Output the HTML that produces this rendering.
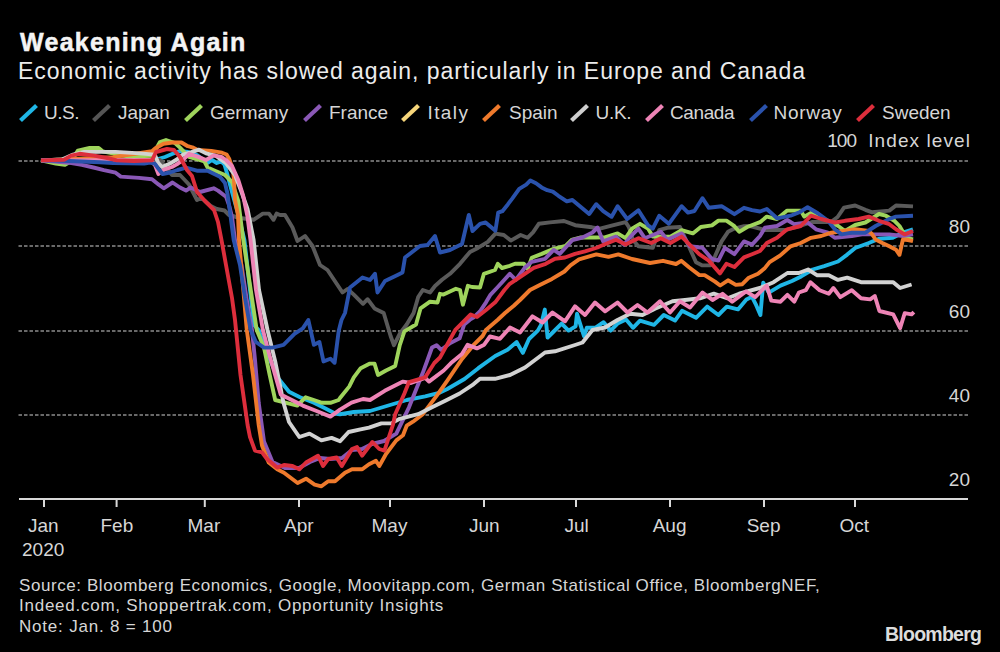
<!DOCTYPE html>
<html><head><meta charset="utf-8">
<style>
html,body{margin:0;padding:0;background:#000;}
body{width:1000px;height:652px;position:relative;overflow:hidden;font-family:"Liberation Sans",sans-serif;color:#d6d6d6;}
.t{position:absolute;white-space:nowrap;line-height:1;}
#title{left:20px;top:30px;font-size:25px;font-weight:bold;color:#f4f4f4;letter-spacing:1.3px;-webkit-text-stroke:0.5px #f4f4f4;}
#sub{left:18px;top:60px;font-size:23px;color:#ececec;letter-spacing:0.95px;}
.lg{top:103px;font-size:19px;}
.ax{font-size:19px;}
.src{left:19px;font-size:17px;letter-spacing:0.65px;}
#logo{left:885px;top:625px;font-size:19.5px;font-weight:bold;color:#dcdcdc;letter-spacing:-0.75px;}
svg{position:absolute;left:0;top:0;}
</style></head>
<body>
<div class="t" id="title">Weakening Again</div>
<div class="t" id="sub">Economic activity has slowed again, particularly in Europe and Canada</div>

<div class="t lg" style="left:44px;letter-spacing:-0.5px">U.S.</div>
<div class="t lg" style="left:118px">Japan</div>
<div class="t lg" style="left:210px">Germany</div>
<div class="t lg" style="left:329px">France</div>
<div class="t lg" style="left:427.5px;letter-spacing:1.4px">Italy</div>
<div class="t lg" style="left:509px">Spain</div>
<div class="t lg" style="left:595.5px;letter-spacing:-0.3px">U.K.</div>
<div class="t lg" style="left:670px;letter-spacing:-0.4px">Canada</div>
<div class="t lg" style="left:773.5px;letter-spacing:0.75px">Norway</div>
<div class="t lg" style="left:882px">Sweden</div>

<div class="t ax" style="right:28.9px;top:131px"><span style="letter-spacing:-0.9px">100</span><span style="display:inline-block;width:12px"></span><span style="letter-spacing:1.1px">Index level</span></div>
<div class="t ax" style="right:30px;top:217px">80</div>
<div class="t ax" style="right:30px;top:302px">60</div>
<div class="t ax" style="right:30px;top:386px">40</div>
<div class="t ax" style="right:30px;top:470px">20</div>

<div class="t ax" style="left:28px;top:516px">Jan</div>
<div class="t ax" style="left:22px;top:540px">2020</div>
<div class="t ax" style="left:100.5px;top:516px">Feb</div>
<div class="t ax" style="left:187.5px;top:516px">Mar</div>
<div class="t ax" style="left:284px;top:516px">Apr</div>
<div class="t ax" style="left:371.5px;top:516px">May</div>
<div class="t ax" style="left:469px;top:516px">Jun</div>
<div class="t ax" style="left:564.5px;top:516px">Jul</div>
<div class="t ax" style="left:652.7px;top:516px">Aug</div>
<div class="t ax" style="left:746.7px;top:516px">Sep</div>
<div class="t ax" style="left:839.6px;top:516px">Oct</div>

<div class="t src" style="top:577px;letter-spacing:0.58px">Source: Bloomberg Economics, Google, Moovitapp.com, German Statistical Office, BloombergNEF,</div>
<div class="t src" style="top:597px;letter-spacing:0.75px">Indeed.com, Shoppertrak.com, Opportunity Insights</div>
<div class="t src" style="top:618px;letter-spacing:0.8px">Note: Jan. 8 = 100</div>
<div class="t" id="logo">Bloomberg</div>

<svg width="1000" height="652" viewBox="0 0 1000 652">
<g stroke="#8c8c8c" stroke-width="1.5" stroke-dasharray="3.5 2">
<line x1="18.5" y1="161" x2="969.5" y2="161"/>
<line x1="18.5" y1="246" x2="969.5" y2="246"/>
<line x1="18.5" y1="331" x2="969.5" y2="331"/>
<line x1="18.5" y1="415" x2="969.5" y2="415"/>
</g>
<g stroke="#d8d8d8" stroke-width="2">
<line x1="19" y1="499" x2="968" y2="499"/>
<path d="M44 499V507M116.6 499V507M204.8 499V507M299 499V507M390 499V507M484 499V507M576 499V507M670 499V507M764 499V507M855 499V507"/>
</g>
<g stroke-width="4.2" stroke-linecap="butt">
<line x1="20.5" y1="120.5" x2="36.5" y2="105.5" stroke="#1fb6e6"/>
<line x1="93.5" y1="120.5" x2="109.5" y2="105.5" stroke="#555555"/>
<line x1="185.5" y1="120.5" x2="201.5" y2="105.5" stroke="#9fd45c"/>
<line x1="304.5" y1="120.5" x2="320.5" y2="105.5" stroke="#8a58b6"/>
<line x1="402.5" y1="120.5" x2="418.5" y2="105.5" stroke="#f6d57a"/>
<line x1="483.5" y1="120.5" x2="499.5" y2="105.5" stroke="#ef7a2c"/>
<line x1="571.5" y1="120.5" x2="587.5" y2="105.5" stroke="#cfcfcf"/>
<line x1="646.5" y1="120.5" x2="662.5" y2="105.5" stroke="#ee84b6"/>
<line x1="750.5" y1="120.5" x2="766.5" y2="105.5" stroke="#2a52ac"/>
<line x1="857.5" y1="120.5" x2="873.5" y2="105.5" stroke="#dd2e3c"/>
</g>
<g id="lines" fill="none" stroke-width="3.9" stroke-linejoin="round">
<path stroke="#1fb6e6" d="M41,160.4 150,160 158,159 165,157 172,154 180,151 188,152 197,155 207.6,163 212,160 216.8,163 221.4,161.5 224.5,164.5 227.5,175 232,192 238,213.6 244.4,240 254,325 258.7,330 267,353 278,378 289,391.8 300,397.3 313.9,402.8 325,408.3 336,413.9 340,414.2 353.8,412 370,411 388.4,405.5 406.8,400 425.2,396.3 440,392.6 447.3,389 464.5,379 478.3,368.2 495.2,356 507.5,349.8 516.7,342.1 522.8,352.9 529,339 537.8,330.6 541,325 544.8,309.6 547.6,337.6 553.2,332 561.6,323.6 568.6,330.6 575.6,326.4 577,313.8 584,336.2 586.8,327.8 595.2,327.8 603.6,322.2 610.6,330.6 617.6,323.6 626,319.4 633,327.8 640,320.6 654,324.8 663.8,315 675,320.6 682,310.8 696,317.8 707.2,306.6 718.4,315 726.8,306.6 738,309.4 746.4,299.6 752,296.8 756.2,305.2 760.4,315 763.2,282.8 768.8,292.6 780.5,285.6 792,281 801.2,276.4 812.7,269.5 824.2,266.1 838,261.5 847.2,254.6 855.2,248 868.8,243 879,238.7 892.7,237.8 902.9,232.7 913,229.3"/>
<path stroke="#5a5a5a" d="M41,160.4 100,158 160,160 168,170 172,175 180,175 189,184.5 197,200 201.5,198 210.7,206 216.8,209 224.5,210.5 229,215 240,218 253.6,219.8 262.8,213.6 269,213.6 273.5,219.8 276.6,213.6 280,215 285,215 292.5,227.5 297.5,241 305,236 312.5,246 320,265 327.5,270 342.5,292.5 347.5,289 353.8,294.6 363,303.8 367.6,299.2 374.5,308.4 383.7,313 390.6,336 394,345.2 399.8,333.7 406.7,324.5 413.6,313 418.2,297 422.8,290 430,292.5 435,286 442,279.8 450,273.8 460,263.8 470,251.9 477.9,247.9 487.8,241.9 495.4,233.6 503.8,235 510.8,240.6 520.6,235 527.6,237.8 533.2,232.2 538.8,223.8 550,222.4 564,221 575.2,225.2 592,227.3 600,228.6 609.6,226.2 625.6,222.2 628.8,227 633,240 638.4,246.2 652.8,247.8 659.2,230.2 667.2,227.8 680,227 686,240 696,262.2 702.4,265.4 710.4,265.4 715.2,255.8 721.6,241.4 728,231.8 734.4,228.6 744,226.2 750,226 765,230 786,230 800,226 812,222 831,222 837.6,217 844,207.6 855.2,205.5 865.4,209.8 872.2,212.3 889.3,210.6 896,205.5 913,206.4"/>
<path stroke="#9fd45c" d="M41,160.4 55.8,163.6 64.9,164.9 71.4,161 77.9,150.6 89.6,148 98.7,148 102.6,151.3 128.6,156.5 152,155.8 155.9,149.3 160,142 166,140 175,143 180,147.7 189,157 204.5,161.5 207.6,167.6 215,170.7 225,175 232,182 238.3,201 243,238 250,285 256.7,330 264,347.6 269.7,375 275.2,400 286.3,402.8 297.3,405.6 305.6,397.3 313.9,400 322,402.8 330.4,402.8 338.7,400 340,398 349.2,386.6 353.8,377.4 360.7,368.2 369.9,363.6 374.5,363.6 378,375 386,370.5 395.2,365.9 399.8,345.2 404.4,331.4 416,324.5 420.5,308.4 430,301.7 437.5,302.5 440,293.8 443.5,294.6 455.9,288.8 460,290 462.9,304.7 467.9,285.8 472,287 480,287.5 483.9,273.8 495,270 497.8,263.8 502,268 509.8,265.8 515,263.8 523.8,263.8 527.7,268.8 531.7,257.8 541.7,253.9 553.7,248.9 565.6,245.9 571.6,239.9 580,237.5 595,237.5 604.8,237.4 617.6,233.4 625.6,238.2 632,228.6 640,223.8 648,228.6 652.8,236.6 670.4,236.6 681.6,230.2 692.8,233.4 700.8,227 712,225.4 718.4,220.6 726.4,220.6 734.4,226.2 739.2,231.8 747.2,227 760,222.2 766.8,216.6 777,219 787.2,210.6 800.8,210.6 804.2,216.6 811,213 828,220.8 838.2,226 845,231 855.2,225 865.4,222.5 879,214 885.8,215.7 894.4,220.8 899.5,226 906.3,237.8 913,239.5"/>
<path stroke="#8a58b6" d="M41,160.4 71.4,163 81.8,164.9 93.5,167.5 103.9,170.1 115.6,172.7 120.8,176.6 139,177.9 152,179.2 158.5,184.4 163.7,188.3 172.5,182.5 180,187.5 186,190.6 190.7,187.5 200,192 213.7,188.3 218,190.6 226,196.7 229,205 232,217 235,240 241.5,265 246.5,298 252,330 255,360 258.7,402.8 264,441.5 272.5,462 285,468 299,468 310,462 320,458 330,459 342,458 352,450 362,449 372,444 384,441 396.3,433.6 409,407.3 422.8,372.8 432,347.5 436.6,345.2 441.2,349.8 450.4,343 459.6,338.3 464.2,324.5 469.9,319.7 473.4,317.6 479.9,311.5 486,302.3 490.6,294.6 497.8,287 509.8,273.8 515.8,279.8 525,267.5 531.7,261.8 545,258.8 553.7,249.9 559.7,253.9 572.5,240 582.5,237.5 592.5,232.5 597.5,227.5 603.2,241.4 616,236.6 624,244.6 630.4,236.6 638.4,228.6 644.8,238.2 660.8,231.8 667.2,239.8 681.6,233.4 689.6,246.2 702.4,247.8 712,259 718.4,260.6 724.8,247.8 734.4,254.2 744,241.4 752,244.6 760,236 765,227.6 777,226 787.2,220 794,224.2 807.6,222.5 816,229.3 828,232.7 834.8,237.8 851.8,236 862,234.4 875.6,234.4 889.3,234.4 902.9,236 913,234.4"/>
<path stroke="#ef7a2c" d="M41,160.4 113,157.1 152,151.3 155.4,148.2 163.5,143.7 172.5,142.5 181.5,142.5 187.8,146.2 192.3,147.3 197.7,150 211.3,150.9 222,152.7 226.6,154.5 229.3,159 232.9,169.8 234,180 235,200 238,215 239,240 246.8,330 253,375 258.7,425 262,445.5 268.7,462.5 277.2,469.3 284,472.7 297.6,483 306,478.7 314.6,484.6 321.4,486.3 328.2,481.2 335,481.2 345,472.7 352,469.3 362.2,469.3 369,464.2 375.9,460.8 379.3,466 386,454 396.3,440.4 403,435.3 406.7,425.7 413,421.7 422.8,414.2 436.6,395.8 448,379.7 462,359 473.4,345.2 482.6,336 485.9,330 497.8,319.7 505,313 513.8,305.7 520,300 530,290 539.8,285 552,278.9 564.4,271.5 570.5,265.4 579,259.3 596.3,254.4 608.5,256.8 618.3,254.4 632,259 650,263 663,260.8 676,264 681.2,260.8 689,267.3 699.4,275.1 704.6,275.1 715,281.6 720.2,285.5 728,280.3 735.8,284.9 742.3,284.2 748.8,277.7 758,273.8 764.4,268.6 769.6,262.1 780,255.6 790.6,246.3 800.8,243 811,237.8 821.2,236 831.4,232.7 855.2,229.3 868.8,231 872.2,234.4 875.6,239.5 882.4,243 889.3,246.3 896,249.7 899.5,254.8 902.9,239.5 908,240 913,241.2"/>
<path stroke="#d2d2d2" d="M41,160.4 62,159.5 72,155 84.4,152 100,151.9 115.6,151.9 140,153.4 154.7,154.6 158.4,163.2 162,167 170.7,163.2 176.8,159.5 183,154.6 191.5,152.2 199,149.7 206,153.4 216,155.9 226,163.2 235,175 241,190.6 247.5,209 253.6,240 259,290 267.5,330 275.2,361.4 283.5,402.8 289,422 299.3,437 309.5,433.6 321.4,440.4 331.6,437.9 340.1,441.3 348.6,432 360.5,429.4 369,427.7 381.4,423.4 391.2,423.4 399.8,418.8 418.2,414.2 432,407.3 445.8,400.4 459.6,393.5 473.4,384.3 480,378.8 495,378.8 510,375 525,367.5 545,352.5 555,351.3 575,345 582.5,342.5 592.5,330 605,327.5 617.5,320 630,313.8 642.5,315 655,308.8 672.5,301.3 685,300 700,298.3 713.8,293.7 727.6,298.3 739.1,293.7 759.8,288 773.6,282.2 787.4,273 798.9,273 808.1,269.5 817.3,275.3 828.8,275.3 838,279.9 847.2,277.6 861,282.2 879.4,282.2 893.2,282.2 900.1,288 911.6,284.5"/>
<path stroke="#ee84b6" d="M41,160.4 150,160 155,165 158.4,174 164.5,169.4 172,167 176.8,164.4 183,160 189,153.8 198.4,156.9 206,160 213.7,155.3 221.4,156.9 226,160 232,166 238.3,180 243,195 247.5,216.7 250.5,240 256,290 262.9,330 269.7,356 280.7,394.5 291.8,400 302.8,405.6 316.6,411 330.4,416.6 340,409.6 351.5,402.7 363,399 370,400 384.7,390.8 403,381.6 411,383 425.2,377.9 429,381.6 443.7,370.5 451,363.1 462,354 467.6,344.7 476.8,348.4 484.2,344.7 490,336.5 500,338.8 510,327.5 520,332.5 532.5,316.3 542.5,322.5 552.5,312.5 565,321.3 575,306.3 585,315 595,302.5 605,311.3 617.5,302.5 627.5,312.5 637.5,305 647.5,312.5 660,301.3 670,312.5 680,301.3 690,307.5 702.5,292.5 712.5,300 722.5,293.8 732.2,301.7 746,291.4 755.2,297.1 766.7,285.6 771.3,300.6 780.5,301.7 787.4,294.8 794.3,301.7 798.9,292.5 805.8,290.2 810.4,282.2 819.6,290.2 828.8,293.7 833.4,288 840.3,297.1 851.8,290.2 861,298.3 870.2,299.4 874.8,296 879.4,311 893.2,314.4 900.1,328.2 904.7,313.2 911.6,314.4 913.9,312.1"/>
<path stroke="#2a52ac" d="M41,160.4 68.8,161 100,162.3 113,163 144.2,163.6 150,162.5 155,164 158.5,168.8 162.5,174 170,172.5 177.5,170 186,167.6 196.9,170.7 207.6,170.7 219.9,176.8 225,183 227.5,193.7 230.6,216.7 233.7,240 240,265 245,298 250.6,330 255.9,342 264,347.6 272.5,347.6 283.5,344.8 294.5,333.8 302.8,328.3 308.3,320 313.9,344.8 319.4,342 323.5,361.4 330.4,358.7 334.6,362.8 338.7,331 341.5,320 345,313 350,287.5 362.5,277.5 370,280 375,273.8 377.5,292.5 385,281 397.5,275 402.5,272.5 405,257.5 420,246 427.5,245 435,236 440,252.5 450,250 462,244 468.8,215 472.5,231 480,223.8 485.6,222.4 495.4,230.8 498.2,212.6 502.4,211.2 508,204.2 512.2,198.6 519.2,188.8 526.2,184.6 530.4,180.4 536,183.2 541.6,187.4 547.2,190.2 552.8,191.6 558.4,195.8 566.8,201.4 572.4,200 580.8,207 589.2,214 596.2,204.2 603.2,211.2 611.6,216.8 617.6,206.2 627.2,219 638.4,210.2 648,225.4 652.8,228.6 659.2,215.8 668.8,223.8 681.6,206.2 688,212.6 694.4,211 702.4,198.2 708.8,207.8 721.6,206.2 734.4,214.2 744,207.8 752,210.2 760,211.5 766.8,209 777,218.3 790.6,215.7 800,212 807.6,207.2 817.8,213.2 828,220.8 834.8,229.3 841.6,234.4 851.8,232.7 865.4,232.7 875.6,226 889.3,219 896,216.6 913,215.7"/>
<path stroke="#dd2e3c" d="M41,160.4 64,159.8 71.2,155.6 79.6,153.8 94,155.6 107.2,158 116.8,160.4 133.8,161 152,160.4 156,152 167,149 174,150 180,157 187,170 192,176 197,192 205,201 214,210 218,222 221.5,240 226,265 232,298 235,320 240.5,375 247.6,425 250,437 255,450.6 262,452.3 267,459 277.2,467.6 284,465 292.5,466 299.3,469.3 306,462.5 318,455.7 323,466 328.2,459 336.7,457.4 341.8,466 352,449 357,447 362.2,455.7 372.4,442 379.3,449 384.4,450.6 387.8,440.4 392.9,425 395.2,414.2 404.4,393.5 409,382 425.1,377.4 434.3,363 440,357.5 455.3,329.9 470.7,314.5 477,317 486,310 495.2,302.3 504.4,290 509.8,283.8 521.8,275.8 533.7,267.8 545.7,263.8 555,258.8 565,257.5 575,253.8 585,251.3 597.5,247.5 600,246.2 616,239.8 625.6,244.6 638.4,238.2 651.2,243 660.8,238.2 670.4,243 681.6,236.6 689.6,244.6 699.2,254.2 708.8,260.6 720,273.4 726.4,263.8 734.4,267 744,257.4 752,254.2 760,251 766.8,243 777,237.8 787.2,229.3 800.8,226 811,215.7 821.2,219 834.8,222.5 845,220.8 858.6,219 868.8,216.6 879,220.8 889.3,224.2 896,229.3 904.6,234.4 913,231"/>
</g>
</svg>
</body></html>
